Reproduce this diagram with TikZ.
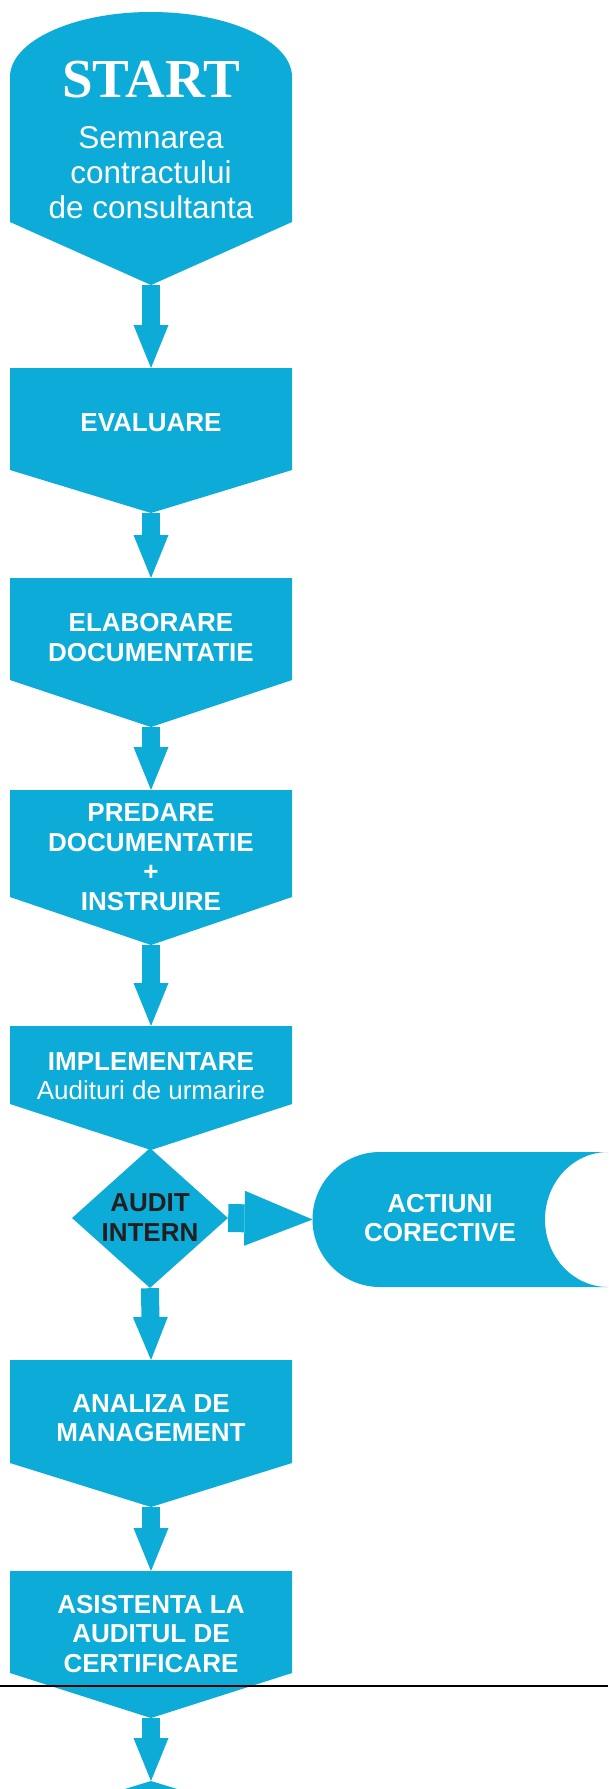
\documentclass[tikz,border=0pt]{standalone}
\usepackage{fontspec}
\setmainfont{Liberation Sans}
\newfontfamily\startfont{Liberation Serif}
\usetikzlibrary{arrows.meta,shapes.geometric}

\definecolor{flowblue}{RGB}{13,171,216}
\definecolor{auditink}{RGB}{35,31,32}

\tikzset{
  steptext/.style={text=white, font=\bfseries\fontsize{26}{29.5}\selectfont, align=center, inner sep=0pt},
  flow/.style={draw=flowblue, line width=18pt, -{Triangle[length=43pt,width=35pt,line width=0pt]}},
  sideflow/.style={draw=flowblue, line width=28pt, -{Triangle[length=68pt,width=55pt,line width=0pt]}}
}

\begin{document}
\begin{tikzpicture}[x=1pt, y=-1pt]  % pixel-like units, y grows downwards
    \useasboundingbox (0,0) rectangle (608,1789);
    \clip (0,0) rectangle (608,1789);

    % START shape with the round top
    \fill[flowblue] (10,222) -- (10,77)
        arc[start angle=180, end angle=0, x radius=141pt, y radius=65pt]
        -- (292,222) -- (151,285) -- cycle;
    \coordinate (start-tip) at (151,285);

    % Step boxes: name / top / end of sides / tip
    \foreach \name/\ytop/\yside/\ytip in {eval/368/470/513, elab/578/680/727,
        pred/790/897/945, impl/1026/1104/1150, anal/1360/1463/1507, asis/1571/1673/1718} {
        \fill[flowblue] (10,\ytop) -- (292,\ytop) -- (292,\yside) -- (151,\ytip) -- (10,\yside) -- cycle;
        \coordinate (\name-top) at (151,\ytop);
        \coordinate (\name-tip) at (151,\ytip);
    }

    % Next step, only its top is shown
    \fill[flowblue] (151,1781) -- (292,1824) -- (10,1824) -- cycle;
    \coordinate (next-top) at (151,1781);

    % ACTIUNI CORECTIVE shape
    \fill[flowblue] (608,1152) -- (380,1152)
        arc[start angle=90, end angle=270, radius=67.5pt]
        -- (608,1287)
        arc[start angle=270, end angle=90, x radius=63pt, y radius=67.5pt] -- cycle;
    \coordinate (act-west) at (312.5,1219.5);

    % Texts
    \node[text=white, font=\startfont\bfseries\fontsize{55}{60}\selectfont, inner sep=0pt] (start) at (151,80) {START};
    \node[steptext, font=\fontsize{31.5}{35}\selectfont] (sign) at (151,173) {Semnarea\\contractului\\de consultanta};
    \node[steptext] (evaltext) at (151,423) {EVALUARE};
    \node[steptext] (elabtext) at (151,637.5) {ELABORARE\\DOCUMENTATIE};
    \node[steptext] (predtext) at (151,857) {PREDARE\\DOCUMENTATIE\\+\\INSTRUIRE};
    \node[steptext] (impltext) at (151,1076) {IMPLEMENTARE\\{\mdseries Audituri de urmarire}};
    \node[steptext] (analtext) at (151,1418) {ANALIZA DE\\MANAGEMENT};
    \node[steptext] (asistext) at (151,1634) {ASISTENTA LA\\AUDITUL DE\\CERTIFICARE};
    \node[steptext] (acttext) at (440,1218) {ACTIUNI\\CORECTIVE};

    % Decision
    \node[diamond, fill=flowblue, minimum width=156pt, minimum height=140pt, aspect=1.1,
        inner sep=0pt, text=auditink, font=\bfseries\fontsize{26}{30}\selectfont, align=center]
        (audit) at (150,1218) {AUDIT\\INTERN};

    % Arrows
    \foreach \a/\b in {start/eval, eval/elab, elab/pred, pred/impl, anal/asis, asis/next}
        \draw[flow] (\a-tip) -- (\b-top);
    \draw[flow] (audit.south) -- (anal-top);
    \draw[sideflow] (audit.east) -- (act-west);

    % Rule across the page
    \draw[line width=2.2pt] (0,1686) -- (608,1686);
\end{tikzpicture}
\end{document}
